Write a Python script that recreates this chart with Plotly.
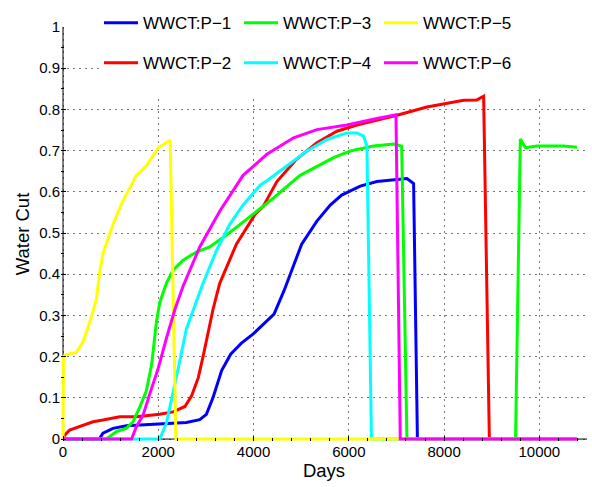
import plotly.graph_objects as go

# Water cut (WWCT) per producer well versus simulation time in days
p1_days = [0, 760, 840, 1050, 1330, 2030, 2590, 2870, 3010, 3150, 3330, 3520, 3740, 4000,
           4230, 4430, 4640, 4810, 5010, 5330, 5610, 5850, 6240, 6590, 7010, 7220, 7360,
           7440, 10790]
p1_wct = [0, 0, 0.014, 0.026, 0.032, 0.036, 0.040, 0.047, 0.060, 0.101, 0.166, 0.206, 0.232,
          0.256, 0.280, 0.303, 0.360, 0.410, 0.473, 0.529, 0.568, 0.592, 0.614, 0.625, 0.630,
          0.632, 0.620, 0, 0]

p2_days = [0, 40, 140, 350, 630, 840, 1190, 1540, 2030, 2310, 2560, 2700, 2840, 2940, 3050,
           3150, 3290, 3640, 4030, 4200, 4490, 4900, 5330, 5750, 6170, 6590, 7010, 7640,
           8060, 8410, 8690, 8830, 8950, 10790]
p2_wct = [0, 0.010, 0.022, 0.030, 0.042, 0.046, 0.054, 0.054, 0.060, 0.066, 0.079, 0.105,
          0.149, 0.200, 0.260, 0.315, 0.378, 0.473, 0.545, 0.564, 0.625, 0.679, 0.719, 0.747,
          0.762, 0.774, 0.786, 0.806, 0.814, 0.822, 0.823, 0.832, 0, 0]

p3_days = [0, 910, 1120, 1330, 1470, 1610, 1750, 1860, 1960, 2030, 2170, 2310, 2520, 2800,
           3080, 3360, 3720, 4070, 4420, 4770, 4980, 5680, 6030, 6520, 6940, 7110, 7220,
           9500, 9600, 9710, 9950, 10510, 10790]
p3_wct = [0, 0, 0.018, 0.026, 0.042, 0.077, 0.117, 0.180, 0.283, 0.331, 0.378, 0.410, 0.434,
          0.454, 0.466, 0.489, 0.521, 0.552, 0.585, 0.620, 0.640, 0.683, 0.699, 0.711, 0.716,
          0.711, 0, 0, 0.728, 0.707, 0.711, 0.711, 0.708]

p4_days = [0, 2030, 2170, 2280, 2420, 2590, 2800, 2940, 3220, 3500, 3780, 4140, 4280, 4700,
           5120, 5540, 5960, 6170, 6310, 6380, 6475, 10790]
p4_wct = [0, 0, 0.038, 0.101, 0.172, 0.267, 0.331, 0.378, 0.457, 0.521, 0.568, 0.616, 0.627,
          0.663, 0.699, 0.727, 0.743, 0.743, 0.735, 0.711, 0, 0]

p5_days = [0, 10, 60, 280, 420, 560, 700, 770, 840, 980, 1050, 1240, 1540, 1750, 2000, 2250,
           2370, 10790]
p5_wct = [0, 0.200, 0.205, 0.210, 0.236, 0.283, 0.339, 0.405, 0.450, 0.497, 0.521, 0.574,
          0.640, 0.663, 0.707, 0.725, 0, 0]

p6_days = [0, 1440, 1540, 1680, 1820, 2000, 2170, 2350, 2520, 2870, 3290, 3640, 3780, 4280,
           4840, 5330, 5960, 6590, 6990, 7080, 10790]
p6_wct = [0, 0, 0.030, 0.058, 0.109, 0.172, 0.244, 0.315, 0.371, 0.466, 0.553, 0.616, 0.640,
          0.691, 0.731, 0.751, 0.762, 0.778, 0.787, 0, 0]

names = ["WWCT:P\u22121", "WWCT:P\u22122", "WWCT:P\u22123",
         "WWCT:P\u22124", "WWCT:P\u22125", "WWCT:P\u22126"]
colors = ["#0000ff", "#ff0000", "#00ff00", "#00ffff", "#ffff00", "#ff00ff"]
series = [(p1_days, p1_wct), (p2_days, p2_wct), (p3_days, p3_wct),
          (p4_days, p4_wct), (p5_days, p5_wct), (p6_days, p6_wct)]
# first legend row holds P-1, P-3, P-5; second row P-2, P-4, P-6
legend_of = ["legend", "legend2", "legend", "legend2", "legend", "legend2"]

x_tick_vals = [0, 2000, 4000, 6000, 8000, 10000]
y_tick_vals = [0, 0.1, 0.2, 0.3, 0.4, 0.5, 0.6, 0.7, 0.8, 0.9, 1]
y_tick_text = ["0", "0.1", "0.2", "0.3", "0.4", "0.5", "0.6", "0.7", "0.8", "0.9", "1"]

FONT = "Liberation Sans, Arial, Helvetica, sans-serif"
W, H = 592, 487
ML, MR, MT, MB = 61, 5, 18, 46
plot_w = W - ML - MR
plot_h = H - MT - MB
XMAX = 11000
YMAX = 1.0
# a little room below/left of zero so lines lying on the axes are not clipped
x_pad = 2 * XMAX / (plot_w - 2)
y_pad = 2 * YMAX / (plot_h - 2)

fig = go.Figure()
for (xs, ys), nm, col, lg in zip(series, names, colors, legend_of):
    fig.add_trace(go.Scatter(x=xs, y=ys, mode="lines", name=nm,
                             line=dict(color=col, width=3), legend=lg))

grid_kw = dict(showgrid=True, gridcolor="#7a7a7a", gridwidth=1, griddash="2px,4px",
               zeroline=False, showline=False, ticks="inside", ticklen=5,
               tickcolor="black", tickwidth=1,
               tickfont=dict(family=FONT, size=15, color="black"))

legend_kw = dict(orientation="h", xanchor="left", yanchor="middle", entrywidth=91,
                 itemwidth=34, bgcolor="rgba(0,0,0,0)", borderwidth=0,
                 font=dict(family=FONT, size=17, color="black"))

fig.update_layout(
    width=W, height=H,
    margin=dict(l=ML, r=MR, t=MT, b=MB),
    paper_bgcolor="white", plot_bgcolor="white",
    font=dict(family=FONT, color="black"),
    xaxis=dict(range=[-x_pad, XMAX], tickvals=x_tick_vals,
               ticktext=[str(v) for v in x_tick_vals],
               minor=dict(dtick=400, ticks="inside", ticklen=3, tickcolor="black",
                          showgrid=False),
               title=dict(text="Days", font=dict(family=FONT, size=18.5), standoff=4),
               **grid_kw),
    yaxis=dict(range=[-y_pad, YMAX], tickvals=y_tick_vals, ticktext=y_tick_text,
               minor=dict(dtick=0.05, ticks="inside", ticklen=3, tickcolor="black",
                          showgrid=False),
               title=dict(text="Water Cut", font=dict(family=FONT, size=18.5), standoff=4),
               **grid_kw),
    legend=dict(x=(99 - ML) / plot_w, y=(plot_h + 4) / plot_h, **legend_kw),
    legend2=dict(x=(99 - ML) / plot_w, y=(plot_h - 37) / plot_h, **legend_kw),
    showlegend=True,
)

# white legend area hiding the grid in the upper right part of the axes
fig.add_shape(type="rect", xref="x", yref="y", x0=780, x1=XMAX, y0=0.833, y1=YMAX,
              fillcolor="white", line=dict(width=0), layer="between")
# axis lines, kept beneath the curves
fig.add_shape(type="line", xref="x", yref="y", x0=0, x1=XMAX, y0=0, y1=0,
              line=dict(color="black", width=1), layer="between")
fig.add_shape(type="line", xref="x", yref="y", x0=0, x1=0, y0=0, y1=YMAX,
              line=dict(color="black", width=1), layer="between")

fig.write_html("out.html")
